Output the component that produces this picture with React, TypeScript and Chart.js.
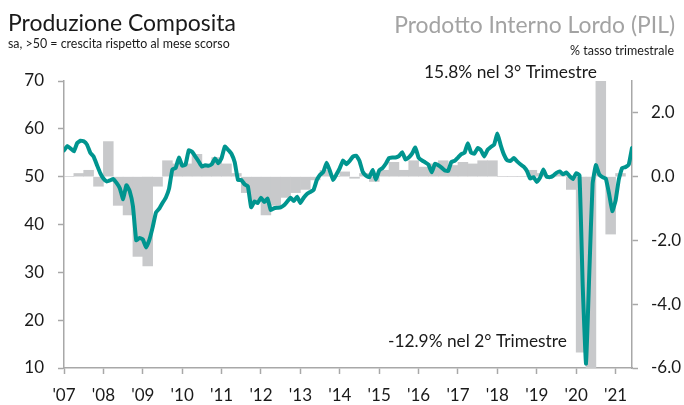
import React, { useEffect, useRef } from 'react';
import { Chart, registerables } from 'chart.js';

Chart.register(...registerables);

// Monthly composite output PMI, Jan 2007 .. Jun 2021 (index = months since Jan 2007)
const pmiComposite: number[] = [
  55.5, 56.4, 55.9, 55.3, 57.0, 57.5, 57.4, 56.7, 55.0, 54.2, 52.5, 50.8,
  49.6, 49.0, 49.2, 49.5, 48.7, 47.6, 45.3, 48.2, 47.0, 43.8, 36.7, 37.2,
  36.9, 35.2, 36.8, 39.4, 42.5, 43.3, 44.5, 45.6, 47.5, 51.5, 51.8, 54.0,
  52.3, 52.5, 55.5, 55.2, 54.2, 53.2, 52.1, 52.4, 52.3, 52.6, 53.8, 52.8,
  53.9, 56.3, 55.6, 54.8, 53.0, 49.3, 49.3, 48.4, 48.0, 43.6, 44.8, 44.5,
  45.6, 44.7, 45.4, 43.0, 43.4, 43.5, 43.6, 44.0, 44.8, 45.6, 44.9, 45.8,
  44.5, 45.6, 46.4, 46.8, 47.2, 49.3, 50.4, 51.0, 52.9, 51.2, 49.3, 50.5,
  51.8, 53.4, 52.6, 53.3, 54.2, 54.4, 53.3, 51.0, 50.2, 49.9, 51.4, 49.4,
  51.3, 51.8, 52.7, 53.9, 54.0, 54.0, 54.3, 55.1, 53.6, 54.0, 54.8, 56.1,
  54.0, 53.4, 53.0, 52.5, 50.9, 52.7, 52.4, 51.9, 51.3, 51.2, 53.1, 53.3,
  54.0, 54.7, 55.0, 57.0, 55.0, 54.8, 56.0, 55.5, 54.2, 55.6, 56.2, 56.7,
  59.0, 56.6, 54.6, 53.4, 53.3, 53.9, 53.2, 52.6, 52.1, 51.2, 49.6, 49.9,
  48.9, 49.8, 51.5, 50.0, 49.9, 50.2, 50.8, 51.1, 50.5, 50.9, 50.1, 49.5,
  50.7, 50.3, 27.0, 10.9, 30.0, 48.5, 52.4, 50.5, 49.9, 49.6, 46.5, 42.8,
  45.0, 49.5, 51.8, 52.0, 52.5, 56.0,
];

// Quarterly GDP growth, % q/q, 2007 Q1 .. 2021 Q1
const gdpQoQ: number[] = [
  0.0, 0.1, 0.2, -0.3,
  1.1, -0.9, -1.2, -2.5,
  -2.8, -0.3, 0.5, 0.4,
  0.4, 0.7, 0.35, 0.6,
  0.4, 0.1, -0.5, -0.75,
  -1.2, -0.9, -0.65, -0.5,
  -0.4, -0.1, 0.2, 0.0,
  0.15, -0.05, 0.1, -0.15,
  0.2, 0.45, 0.2, 0.5,
  0.3, 0.4, 0.5, 0.35,
  0.45, 0.4, 0.5, 0.5,
  0.0, 0.0, 0.0, 0.2,
  0.1, 0.0, 0.1, -0.4,
  -5.5, -12.9, 15.8, -1.8,
  0.1,
];

const yearTickLabels: string[] = [
  "'07", "'08", "'09", "'10", "'11", "'12", "'13", "'14",
  "'15", "'16", "'17", "'18", "'19", "'20", "'21",
];
const leftTicks: number[] = [10, 20, 30, 40, 50, 60, 70];
const rightTicks: number[] = [-6, -4, -2, 0, 2];

const titleLeft = 'Produzione Composita';
const subtitleLeft = 'sa, >50 = crescita rispetto al mese scorso';
const titleRight = 'Prodotto Interno Lordo (PIL)';
const subtitleRight = '% tasso trimestrale';
const noteTop = '15.8% nel 3° Trimestre';
const noteBottom = '-12.9% nel 2° Trimestre';

const FAMILY = 'Lato';
const TEAL = '#00958f';
const BAR_GREY = '#c8c9cb';
const AXIS_GREY = '#a8a8a8';
const TEXT = '#1a1a1a';
const LIGHT_TEXT = '#a3a3a3';

function fitText(
  ctx: CanvasRenderingContext2D,
  text: string,
  x: number,
  y: number,
  align: CanvasTextAlign,
  width: number,
  color: string,
) {
  ctx.save();
  ctx.font = `400 20px ${FAMILY}`;
  const w = ctx.measureText(text).width;
  const size = (20 * width) / w;
  ctx.font = `400 ${size}px ${FAMILY}`;
  ctx.fillStyle = color;
  ctx.textAlign = align;
  ctx.textBaseline = 'alphabetic';
  ctx.fillText(text, x, y);
  ctx.restore();
}

const textPlugin = {
  id: 'texts',
  afterDraw(chart: any) {
    const ctx = chart.ctx as CanvasRenderingContext2D;
    fitText(ctx, titleLeft, 8, 30.5, 'left', 228, TEXT);
    fitText(ctx, subtitleLeft, 8, 47.5, 'left', 222, TEXT);
    fitText(ctx, titleRight, 675, 33, 'right', 281, LIGHT_TEXT);
    fitText(ctx, subtitleRight, 674, 54.5, 'right', 104, TEXT);
    fitText(ctx, noteTop, 424, 77.5, 'left', 173, TEXT);
    fitText(ctx, noteBottom, 388, 346.5, 'left', 179, TEXT);
  },
};

export default function App() {
  const ref = useRef<HTMLCanvasElement | null>(null);

  useEffect(() => {
    const canvas = ref.current;
    if (!canvas) return;
    Chart.defaults.font.family = FAMILY;

    const linePoints = pmiComposite.map((v, i) => ({ x: i, y: v }));
    const barPoints = gdpQoQ.map((v, q) => ({ x: q * 3 + 1.5, y: v }));

    const tickFont = { family: FAMILY, size: 17 };

    const chart = new Chart(canvas, {
      type: 'line',
      data: {
        datasets: [
          {
            type: 'line',
            data: linePoints,
            xAxisID: 'x',
            yAxisID: 'y',
            borderColor: TEAL,
            borderWidth: 4,
            pointRadius: 0,
            tension: 0.12,
            borderJoinStyle: 'round',
            borderCapStyle: 'round',
            fill: false,
            order: 0,
          } as any,
          {
            type: 'bar',
            data: barPoints,
            xAxisID: 'x',
            yAxisID: 'y2',
            backgroundColor: BAR_GREY,
            borderWidth: 0,
            barPercentage: 1,
            categoryPercentage: 1,
            grouped: false,
            order: 1,
          } as any,
        ],
      },
      options: {
        animation: false,
        responsive: false,
        events: [],
        layout: { padding: { top: 81, left: 0, right: 0, bottom: 0 } },
        plugins: {
          legend: { display: false },
          tooltip: { enabled: false },
          title: { display: false },
        },
        scales: {
          x: {
            type: 'linear',
            position: 'bottom',
            min: 0,
            max: 173,
            offset: false,
            grid: {
              offset: false,
              drawOnChartArea: false,
              drawTicks: true,
              tickLength: 6,
              color: AXIS_GREY,
              tickColor: AXIS_GREY,
              tickWidth: 1.5,
            },
            border: { display: true, color: AXIS_GREY, width: 1.5 },
            ticks: {
              autoSkip: false,
              maxRotation: 0,
              minRotation: 0,
              padding: 11,
              color: TEXT,
              font: tickFont,
              callback: (v: any) => yearTickLabels[Math.round(Number(v) / 12)] ?? '',
            },
            afterBuildTicks: (s: any) => {
              s.ticks = yearTickLabels.map((_, i) => ({ value: i * 12 }));
            },
            afterFit: (s: any) => {
              s.height = 37;
            },
          },
          y: {
            type: 'linear',
            position: 'left',
            min: 10,
            max: 70,
            grid: {
              drawOnChartArea: false,
              drawTicks: true,
              tickLength: 6,
              color: AXIS_GREY,
              tickColor: AXIS_GREY,
              tickWidth: 1.5,
            },
            border: { display: true, color: AXIS_GREY, width: 1.5 },
            ticks: {
              padding: 14,
              color: TEXT,
              font: tickFont,
              callback: (v: any) => String(v),
            },
            afterBuildTicks: (s: any) => {
              s.ticks = leftTicks.map((v) => ({ value: v }));
            },
            afterFit: (s: any) => {
              s.width = 64;
            },
          },
          y2: {
            type: 'linear',
            position: 'right',
            min: -6,
            max: 3,
            grid: {
              drawOnChartArea: false,
              drawTicks: true,
              tickLength: 6,
              color: AXIS_GREY,
              tickColor: AXIS_GREY,
              tickWidth: 1.5,
            },
            border: { display: true, color: AXIS_GREY, width: 1.5 },
            ticks: {
              padding: 13,
              color: TEXT,
              font: tickFont,
              callback: (v: any) => Number(v).toFixed(1),
            },
            afterBuildTicks: (s: any) => {
              s.ticks = rightTicks.map((v) => ({ value: v }));
            },
            afterFit: (s: any) => {
              s.width = 52;
            },
          },
        },
      } as any,
      plugins: [textPlugin],
    });

    return () => chart.destroy();
  }, []);

  return (
    <div style={{ position: 'absolute', left: 0, top: 0, width: 684, height: 405, background: '#fff' }}>
      <canvas ref={ref} width={684} height={405} style={{ display: 'block', width: 684, height: 405 }} />
    </div>
  );
}
